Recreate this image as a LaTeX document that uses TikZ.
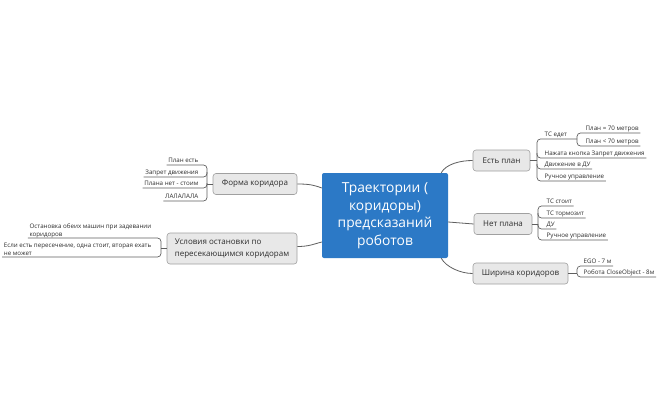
\documentclass[tikz,border=0pt]{standalone}
\usepackage{fontspec}
\setmainfont{Open Sans}
\usetikzlibrary{calc}
\definecolor{cblue}{RGB}{44,121,198}
\definecolor{boxfill}{RGB}{232,232,232}
\definecolor{boxline}{RGB}{160,160,160}
\definecolor{linec}{RGB}{95,95,95}
\definecolor{txt}{RGB}{45,45,45}
\begin{document}
\begin{tikzpicture}[x=1pt,y=-1pt,
  central/.style={fill=cblue, rounded corners=2pt, text=white, font=\fontsize{13.8}{17.5}\selectfont, align=center, minimum width=126pt, minimum height=85pt, inner sep=0pt},
  branch/.style={draw=boxline, fill=boxfill, rounded corners=3pt, text=txt, font=\fontsize{8}{11.5}\selectfont, minimum height=21pt, inner sep=0pt, line width=0.6pt},
  leaf/.style={text=txt, font=\fontsize{6.2}{7.5}\selectfont, inner xsep=1.5pt, inner ysep=0.5pt, text height=4.6pt, text depth=1.5pt},
  mleaf/.style={text=txt, font=\fontsize{6.2}{7.5}\selectfont, inner xsep=1.5pt, inner ysep=0pt, text depth=1.8pt},
  conn/.style={draw=linec, line width=0.8pt},
  br/.style={draw=linec, line width=0.7pt, rounded corners=3.5pt},
]
\useasboundingbox[fill=white] (0,0) rectangle (660,409);

% central
\node[central] (c) at (385,215.5) {Траектории (\\коридоры)\\предсказаний\\роботов};

% branches
\node[branch, minimum width=57pt] (plan) at (501.5,160.5) {Есть план};
\node[branch, minimum width=58pt] (noplan) at (503,224) {Нет плана};
\node[branch, minimum width=95pt] (width) at (520.5,273.5) {Ширина коридоров};
\node[branch, minimum width=84pt] (form) at (255,184) {Форма коридора};
\node[branch, minimum width=130pt, minimum height=31pt, align=left, font=\fontsize{8}{12}\selectfont] (cond) at (232,248.5) {Условия остановки по\\пересекающимся коридорам};

% connectors from central
\draw[conn] ([xshift=-7pt]c.north east) .. controls +(5,-9) and +(-12,0) .. (plan.west);
\draw[conn] ([yshift=-6.5pt]c.east) -- (noplan.west);
\draw[conn] ([xshift=-7pt]c.south east) .. controls +(5,9) and +(-12,0) .. (width.west);
\draw[conn] (form.east) .. controls +(12,0) and +(-8,-3) .. ([yshift=27.5pt]c.west);
\draw[conn] ([yshift=2pt]cond.east) .. controls +(12,0) and +(-8,2) .. ([yshift=-26.5pt]c.west);

% ---- Есть план
\coordinate (bxA) at (537,0);
\coordinate (bxB) at (577,0);
\node[leaf, anchor=south west] (a1) at (543,139) {ТС едет};
\node[leaf, anchor=south west] (a2) at (543,158) {Нажата кнопка Запрет движения};
\node[leaf, anchor=south west] (a3) at (543,169) {Движение в ДУ};
\node[leaf, anchor=south west] (a4) at (543,181) {Ручное управление};
\draw[conn] (plan.east) -- (plan.east -| bxA);
\draw[br] (a1.south west -| bxB) -- (a1.south west -| bxA) -- (a4.south west -| bxA) -- (a4.south east);
\draw[br] ($(a2.south west -| bxA)+(0,-5)$) -- (a2.south west -| bxA) -- (a2.south east);
\draw[br] ($(a3.south west -| bxA)+(0,-5)$) -- (a3.south west -| bxA) -- (a3.south east);
\node[leaf, anchor=south west] (b1) at (584,133) {План = 70 метров};
\node[leaf, anchor=south west] (b2) at (584,146) {План < 70 метров};
\draw[br] (b1.south east) -- (b1.south west -| bxB) -- (b2.south west -| bxB) -- (b2.south east);

% ---- Нет плана
\coordinate (bxC) at (538,0);
\node[leaf, anchor=south west] (n1) at (545,206) {ТС стоит};
\node[leaf, anchor=south west] (n2) at (545,218) {ТС тормозит};
\node[leaf, anchor=south west] (n3) at (545,229) {ДУ};
\node[leaf, anchor=south west] (n4) at (545,240) {Ручное управление};
\draw[conn] (noplan.east) -- (noplan.east -| bxC);
\draw[br] (n1.south east) -- (n1.south west -| bxC) -- (n4.south west -| bxC) -- (n4.south east);
\draw[br] ($(n2.south west -| bxC)+(0,-5)$) -- (n2.south west -| bxC) -- (n2.south east);
\draw[br] ($(n3.south west -| bxC)+(0,-5)$) -- (n3.south west -| bxC) -- (n3.south east);

% ---- Ширина коридоров
\coordinate (bxD) at (577,0);
\node[leaf, anchor=south west] (w1) at (582,266) {EGO - 7 м};
\node[leaf, anchor=south west] (w2) at (582,277) {Робота CloseObject - 8м};
\draw[conn] (width.east) -- (width.east -| bxD);
\draw[br] (w1.south east) -- (w1.south west -| bxD) -- (w2.south west -| bxD) -- (w2.south east);

% ---- Форма коридора
\coordinate (bxE) at (207,0);
\node[leaf, anchor=south east] (f1) at (200,165) {План есть};
\node[leaf, anchor=south east] (f2) at (200,177) {Запрет движения};
\node[leaf, anchor=south east] (f3) at (200,188) {Плана нет - стоим};
\node[leaf, anchor=south east] (f4) at (200,201) {ЛАЛАЛАЛА};
\draw[conn] (form.west) -- (form.west -| bxE);
\draw[br] (f1.south west) -- (f1.south east -| bxE) -- (f4.south east -| bxE) -- (f4.south west);
\draw[br] ($(f2.south east -| bxE)+(0,-5)$) -- (f2.south east -| bxE) -- (f2.south west);
\draw[br] ($(f3.south east -| bxE)+(0,-5)$) -- (f3.south east -| bxE) -- (f3.south west);

% ---- Условия остановки
\coordinate (bxF) at (161,0);
\node[mleaf, anchor=south east] (u1) at (153,238) {\begin{tabular}[b]{@{}l@{}}Остановка обеих машин при задевании\\коридоров\end{tabular}};
\node[mleaf, anchor=south east] (u2) at (153,257) {\begin{tabular}[b]{@{}l@{}}Если есть пересечение, одна стоит, вторая ехать\\не может\end{tabular}};
\draw[conn] (cond.west) -- (cond.west -| bxF);
\draw[br] (u1.south west) -- (u1.south east -| bxF) -- (u2.south east -| bxF) -- (u2.south west);

\end{tikzpicture}
\end{document}
